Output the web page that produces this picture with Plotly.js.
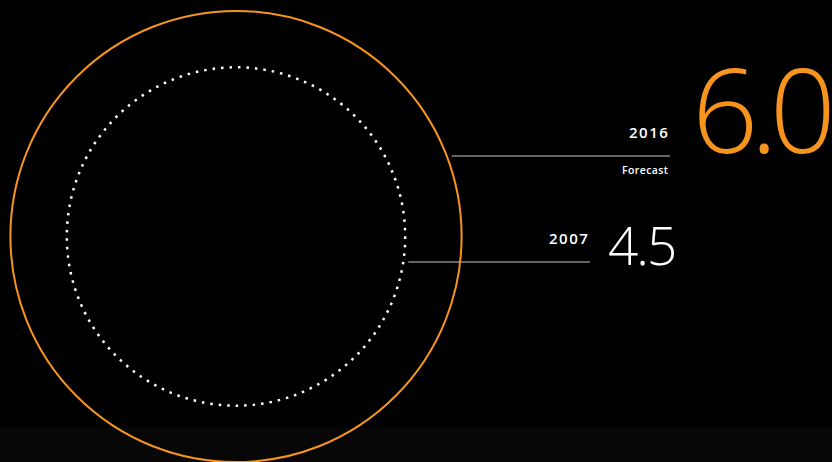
<!DOCTYPE html>
<html>
<head>
<meta charset="utf-8">
<script src="https://cdn.plot.ly/plotly-3.0.1.min.js"></script>
<style>
html,body{margin:0;padding:0;background:#000;}
#chart{width:832px;height:462px;}
</style>
</head>
<body>
<div id="chart"></div>
<script>
// ---- data ----
const years = ["2007", "2016"];
const values = [4.5, 6.0];
const notes = ["", "Forecast"];
const valueLabels = ["4.5", "6.0"];

// ---- styling / layout config ----
const colors = ["#ffffff", "#f7941d"];
const center = {x: 236, y: 236.5};
const unitRadius = 37.6;          // radius per unit of value (axis units)
const labelLineY = [262, 156];    // y of each leader line
const labelLineEnd = [590, 670];  // x where each leader line ends

const shapes = [];
const annotations = [];

// faint floor band
shapes.push({
  type: "rect", xref: "paper", yref: "paper", x0: 0, x1: 1, y0: 0, y1: 0.075,
  fillcolor: "#070707", line: {width: 0}, layer: "below"
});

values.forEach((v, i) => {
  const r = v * unitRadius;
  const dotted = i === 0;
  shapes.push({
    type: "circle", xref: "x", yref: "y",
    x0: center.x - r, x1: center.x + r,
    y0: center.y - r, y1: center.y + r,
    line: dotted ? {color: colors[i], width: 2.5, dash: "2.5px,6px"} : {color: colors[i], width: 2},
    fillcolor: "rgba(0,0,0,0)"
  });
  const dy = labelLineY[i] - center.y;
  const xStart = center.x + Math.sqrt(r * r - dy * dy) + 5;
  shapes.push({
    type: "line", xref: "x", yref: "y",
    x0: xStart, x1: labelLineEnd[i], y0: labelLineY[i], y1: labelLineY[i],
    line: {color: "#c8c8c8", width: 1}
  });
  annotations.push({
    xref: "x", yref: "y", x: labelLineEnd[i] + 1, y: labelLineY[i] - 12,
    xanchor: "right", yanchor: "bottom", showarrow: false,
    text: '<span style="letter-spacing:1.5px">' + years[i] + '</span>',
    font: {family: "Open Sans", size: 15, color: "#ffffff", weight: 600}
  });
  if (notes[i]) {
    annotations.push({
      xref: "x", yref: "y", x: labelLineEnd[i], y: labelLineY[i] + 5,
      xanchor: "right", yanchor: "top", showarrow: false,
      text: '<span style="letter-spacing:0.4px">' + notes[i] + '</span>',
      font: {family: "Open Sans", size: 10.5, color: "#ffffff", weight: 600}
    });
  }
});

// value labels
annotations.push({
  xref: "x", yref: "y", x: 606, y: 244, xanchor: "left", yanchor: "middle",
  showarrow: false, text: '<span style="letter-spacing:-2px">' + valueLabels[0] + '</span>',
  font: {family: "Open Sans", size: 53, color: colors[0], weight: 300}
});
annotations.push({
  xref: "x", yref: "y", x: 690, y: 108, xanchor: "left", yanchor: "middle",
  showarrow: false, text: '<span style="letter-spacing:-8px">' + valueLabels[1] + '</span>',
  font: {family: "Open Sans", size: 116, color: colors[1], weight: 300}
});

const layout = {
  width: 832, height: 462,
  margin: {l: 0, r: 0, t: 0, b: 0},
  paper_bgcolor: "#000000", plot_bgcolor: "rgba(0,0,0,0)",
  xaxis: {range: [0, 832], visible: false, fixedrange: true},
  yaxis: {range: [462, 0], visible: false, fixedrange: true},
  showlegend: false,
  shapes: shapes,
  annotations: annotations
};

Plotly.newPlot("chart", [], layout, {displayModeBar: false, staticPlot: true});
</script>
</body>
</html>
